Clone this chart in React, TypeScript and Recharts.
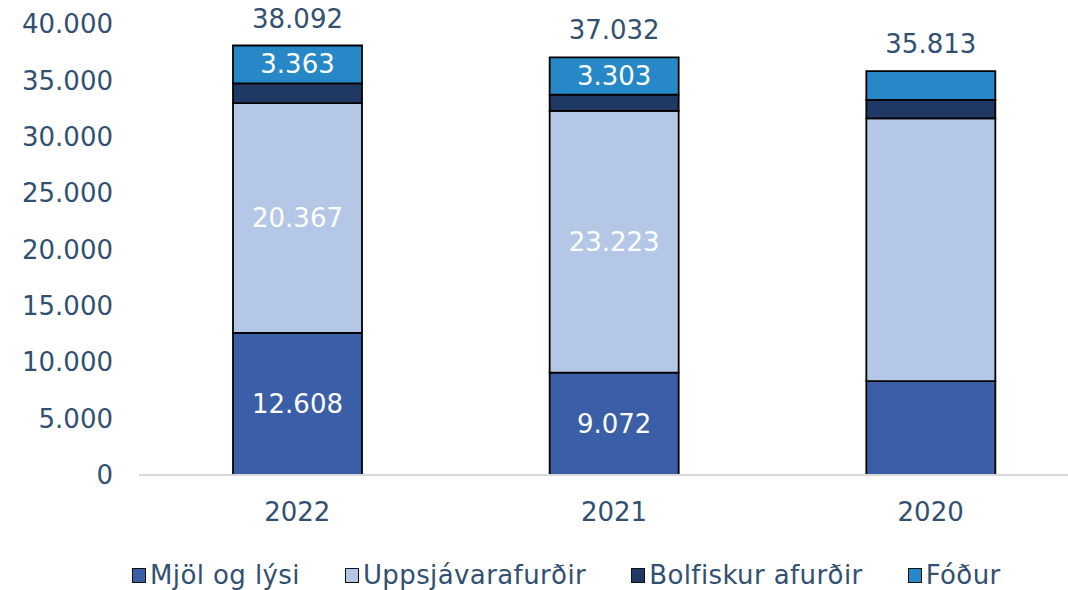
import { BarChart, Bar, XAxis, YAxis, Legend, LabelList } from "recharts";

const years = ["2022", "2021", "2020"];
const mjol = [12608, 9072, 8330];
const upps = [20367, 23223, 23304];
const bolf = [1754, 1434, 1625];
const fodur = [3363, 3303, 2554];
const totals = [38092, 37032, 35813];
const labelledYears = ["2022", "2021"];
const yTicks = [0, 5000, 10000, 15000, 20000, 25000, 30000, 35000, 40000];

const data = years.map((year, i) => ({
  year,
  mjol: mjol[i],
  upps: upps[i],
  bolf: bolf[i],
  fodur: fodur[i],
  total: totals[i],
}));

const TEXT = "#32506F";
const FONT = "'DejaVu Sans', Verdana, sans-serif";

const fmt = (v: number) => String(v).replace(/\B(?=(\d{3})+(?!\d))/g, ".");

const series = [
  { key: "mjol", name: "Mjöl og lýsi", color: "#3A5FA7", label: true },
  { key: "upps", name: "Uppsjávarafurðir", color: "#B4C7E7", label: true },
  { key: "bolf", name: "Bolfiskur afurðir", color: "#1F3864", label: false },
  { key: "fodur", name: "Fóður", color: "#2788C8", label: true },
];

// white value inside the segment, only for the years that carry labels
const insideLabel = (props: any) => {
  const { x, y, width, height, value, index } = props;
  if (!labelledYears.includes(years[index])) return null;
  return (
    <text
      x={x + width / 2}
      y={y + height / 2}
      textAnchor="middle"
      dominantBaseline="central"
      fill="#ffffff"
      fontSize={26}
      fontFamily={FONT}
    >
      {fmt(value)}
    </text>
  );
};

const totalLabel = (props: any) => {
  const { x, y, width, index } = props;
  return (
    <text
      x={x + width / 2}
      y={y - 27}
      textAnchor="middle"
      dominantBaseline="central"
      fill={TEXT}
      fontSize={26}
      fontFamily={FONT}
    >
      {fmt(totals[index])}
    </text>
  );
};

// legend keeps the series order (recharts would sort it by name)
const renderLegend = () => (
  <div style={{ display: "flex", paddingLeft: 132, alignItems: "center", height: 30 }}>
    {series.map((s) => (
      <div key={s.key} style={{ display: "flex", alignItems: "center", marginRight: 45 }}>
        <span
          style={{
            display: "inline-block",
            width: 12,
            height: 13,
            background: s.color,
            border: "1.5px solid #111",
            marginRight: 4,
          }}
        />
        <span style={{ fontFamily: FONT, fontSize: 26, color: TEXT, letterSpacing: 0.4 }}>{s.name}</span>
      </div>
    ))}
  </div>
);

export default function App() {
  return (
    <div
      style={{
        position: "absolute",
        left: 0,
        top: 0,
        width: 1068,
        height: 590,
        overflow: "hidden",
        background: "#fff",
      }}
    >
      <BarChart
        width={1100}
        height={590}
        data={data}
        margin={{ top: 24, right: 11, bottom: 0, left: 0 }}
        barSize={129}
      >
        <XAxis
          dataKey="year"
          axisLine={{ stroke: "#D9D9D9", strokeWidth: 2 }}
          tickLine={false}
          tickSize={0}
          tickMargin={28}
          height={85}
          tick={{ fill: TEXT, fontSize: 26, fontFamily: FONT }}
        />
        <YAxis
          domain={[0, 40000]}
          ticks={yTicks}
          interval={0}
          width={139}
          axisLine={false}
          tickLine={false}
          tickSize={0}
          tickMargin={26}
          tickFormatter={fmt}
          tick={{ fill: TEXT, fontSize: 26, fontFamily: FONT }}
        />
        <Legend verticalAlign="bottom" content={renderLegend} wrapperStyle={{ left: 0, width: 1068, height: 30 }} />
        {series.map((s) => (
          <Bar
            key={s.key}
            dataKey={s.key}
            name={s.name}
            stackId="a"
            fill={s.color}
            stroke="#000"
            strokeWidth={1.8}
            isAnimationActive={false}
          >
            {s.label && <LabelList dataKey={s.key} content={insideLabel} />}
            {s.key === "fodur" && <LabelList dataKey="total" content={totalLabel} />}
          </Bar>
        ))}
      </BarChart>
    </div>
  );
}
